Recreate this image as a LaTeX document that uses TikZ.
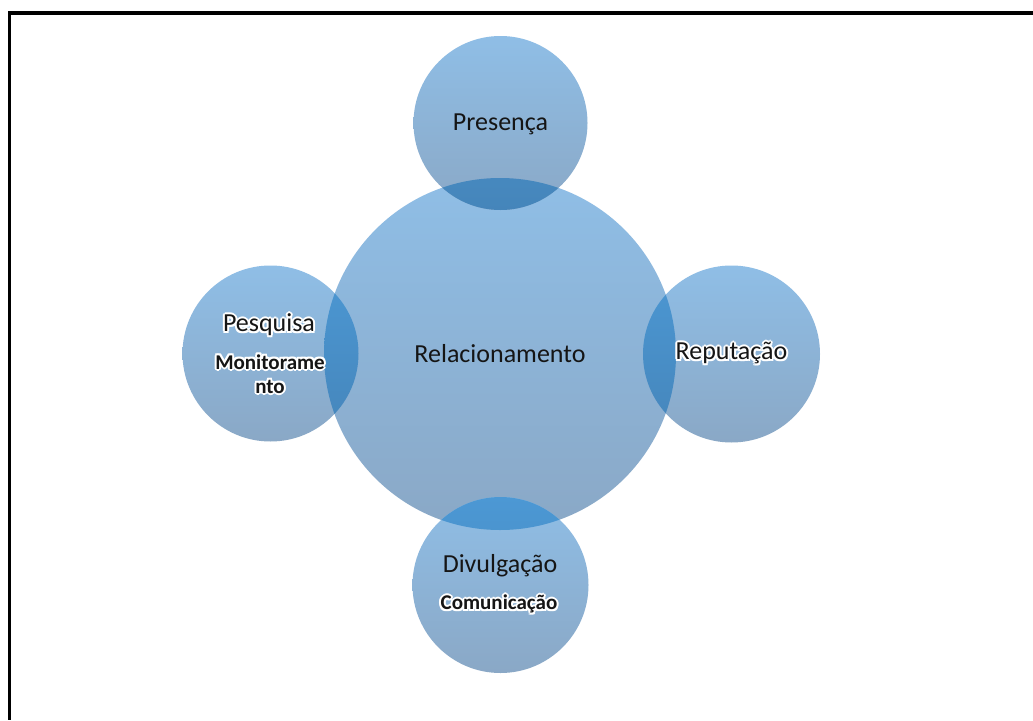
\documentclass[tikz,border=0pt]{standalone}
\usepackage{fontspec}
\setmainfont{Carlito}
\newcommand{\hcopy}[3]{\rlap{\hspace*{#1}\raisebox{#2}{\color{white}#3}}}
\newcommand{\halo}[1]{\leavevmode
  \hcopy{2pt}{0pt}{#1}\hcopy{-2pt}{0pt}{#1}\hcopy{0pt}{2pt}{#1}\hcopy{0pt}{-2pt}{#1}%
  \hcopy{1.5pt}{1.5pt}{#1}\hcopy{-1.5pt}{1.5pt}{#1}\hcopy{1.5pt}{-1.5pt}{#1}\hcopy{-1.5pt}{-1.5pt}{#1}%
  \hcopy{1pt}{0pt}{#1}\hcopy{-1pt}{0pt}{#1}\hcopy{0pt}{1pt}{#1}\hcopy{0pt}{-1pt}{#1}%
  #1}
\definecolor{ctop}{HTML}{8FBEE6}
\definecolor{cbot}{HTML}{8AA8C6}
\definecolor{otop}{HTML}{4C98D4}
\definecolor{obot}{HTML}{4585BA}
\definecolor{txt}{HTML}{151515}
\tikzset{
  bubble/.style={circle, inner sep=0pt, top color=ctop, bottom color=cbot, draw=none},
  lbl/.style={font=\fontsize{26}{28}\selectfont, text=txt, inner sep=0pt},
  sublbl/.style={font=\fontsize{21}{24}\selectfont\bfseries, text=txt, inner sep=0pt, align=center},
  lens/.style={top color=otop, bottom color=obot, draw=none}
}
\begin{document}
\begin{tikzpicture}[x=1pt,y=-1pt]
\useasboundingbox (0,0) rectangle (1033,720);
\fill[white] (0,0) rectangle (1033,720);
% frame
\draw[line width=3.5pt, black] (1033,13) -- (9.5,13) -- (9.5,720);
% circles
\node[bubble, minimum size=352pt] (rel) at (500,354) {};
\node[bubble, minimum size=174pt] (pre) at (500.5,123) {};
\node[bubble, minimum size=176pt] (pes) at (270.5,353.5) {};
\node[bubble, minimum size=177pt] (rep) at (731.5,354) {};
\node[bubble, minimum size=176pt] (div) at (500.5,585) {};
% overlaps
\begin{scope}
  \clip (rel.center) circle (176);
  \shade[lens] (pre.center) circle (87);
  \shade[lens] (pes.center) circle (88);
  \shade[lens] (rep.center) circle (88.5);
  \shade[lens] (div.center) circle (88);
\end{scope}
% labels
\node[lbl] (trel) at (rel.center) {Relacionamento};
\node[lbl] (tpre) at ([yshift=-1pt]pre.center) {Presença};
\node[lbl] (tpes) at (269,325) {\halo{Pesquisa}};
\node[sublbl] (tmon) at (270,374) {\halo{Monitorame}\\\halo{nto}};
\node[lbl] (trep) at (731.5,353) {\halo{Reputação}};
\node[lbl] (tdiv) at (500,566) {Divulgação};
\node[sublbl] (tcom) at (499,604) {\halo{Comunicação}};
\end{tikzpicture}
\end{document}
